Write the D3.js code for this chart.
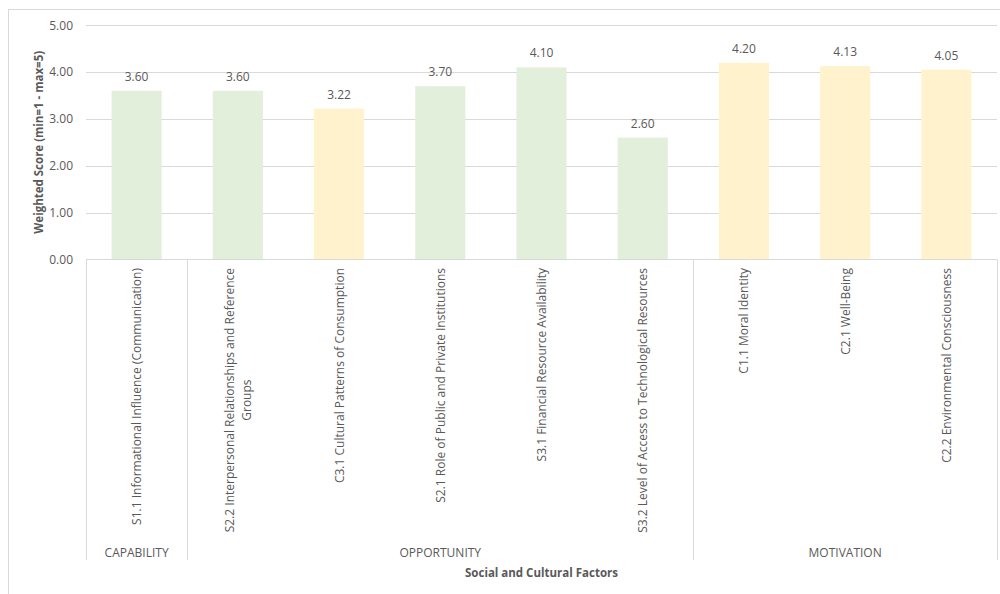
<!DOCTYPE html>
<html>
<head>
<meta charset="utf-8">
<script src="https://cdn.jsdelivr.net/npm/d3@7/dist/d3.min.js"></script>
<style>
  body { margin: 0; background: #fff; }
  svg { display: block; }
  text { font-family: "Open Sans", "Noto Sans", sans-serif; fill: #595959; }
</style>
</head>
<body>
<svg id="chart" width="1000" height="594"></svg>
<script>
// ---- data ----
const categories = [
  "S1.1 Informational Influence (Communication)",
  "S2.2 Interpersonal Relationships and Reference Groups",
  "C3.1 Cultural Patterns of Consumption",
  "S2.1 Role of Public and Private Institutions",
  "S3.1 Financial Resource Availability",
  "S3.2 Level of Access to Technological Resources",
  "C1.1 Moral Identity",
  "C2.1 Well-Being",
  "C2.2 Environmental Consciousness"
];
const labelLines = [
  ["S1.1 Informational Influence (Communication)"],
  ["S2.2 Interpersonal Relationships and Reference", "Groups"],
  ["C3.1 Cultural Patterns of Consumption"],
  ["S2.1 Role of Public and Private Institutions"],
  ["S3.1 Financial Resource Availability"],
  ["S3.2 Level of Access to Technological Resources"],
  ["C1.1 Moral Identity"],
  ["C2.1 Well-Being"],
  ["C2.2 Environmental Consciousness"]
];
const values = [3.60, 3.60, 3.22, 3.70, 4.10, 2.60, 4.20, 4.13, 4.05];
const colorGroup = ["green", "green", "yellow", "green", "green", "green", "yellow", "yellow", "yellow"];
const groups = ["CAPABILITY", "OPPORTUNITY", "MOTIVATION"];
const groupSizes = [1, 5, 3];
const yTicks = [0, 1, 2, 3, 4, 5];
const yTitle = "Weighted Score (min=1 - max=5)";
const xTitle = "Social and Cultural Factors";

// ---- layout ----
const svg = d3.select("#chart");
const pLeft = 86, pRight = 997, pTop = 25.3, pBottom = 259.3;
const catBottom = 560;

svg.append("rect").attr("x", 8.5).attr("y", 9.5).attr("width", 1000).attr("height", 600)
  .attr("fill", "none").attr("stroke", "#d9d9d9").attr("stroke-width", 1);

const x = d3.scaleBand().domain(categories).range([pLeft, pRight]).paddingInner(0).paddingOuter(0);
const y = d3.scaleLinear().domain([0, 5]).range([pBottom, pTop]);
const colors = { green: "#e2efda", yellow: "#fff2cc" };

// gridlines
svg.append("g").selectAll("line").data(yTicks).join("line")
  .attr("x1", pLeft).attr("x2", pRight)
  .attr("y1", d => Math.round(y(d)) + 0.5).attr("y2", d => Math.round(y(d)) + 0.5)
  .attr("stroke", "#d9d9d9").attr("stroke-width", 1);

// y axis labels
const yAxis = d3.axisLeft(y).tickValues(yTicks).tickFormat(d3.format(".2f")).tickSize(0).tickPadding(13);
const yg = svg.append("g").attr("transform", `translate(${pLeft},0)`).call(yAxis);
yg.select(".domain").remove();
yg.selectAll("text").style("font-size", "12px").attr("fill", "#595959")
  .style("font-family", "'Open Sans', sans-serif");

// y title
svg.append("text")
  .attr("transform", `translate(38,${(pTop + pBottom) / 2}) rotate(-90)`)
  .attr("text-anchor", "middle").attr("dominant-baseline", "central")
  .style("font-size", "11.5px").style("font-weight", "bold")
  .text(yTitle);

// bars
const bw = x.bandwidth() * 0.495;
svg.append("g").selectAll("rect").data(categories).join("rect")
  .attr("x", d => x(d) + (x.bandwidth() - bw) / 2)
  .attr("width", bw)
  .attr("y", (d, i) => y(values[i]))
  .attr("height", (d, i) => y(0) - y(values[i]))
  .attr("fill", (d, i) => colors[colorGroup[i]]);

// value labels
svg.append("g").selectAll("text").data(categories).join("text")
  .attr("x", d => x(d) + x.bandwidth() / 2)
  .attr("y", (d, i) => y(values[i]) - 10)
  .attr("text-anchor", "middle")
  .style("font-size", "12px")
  .text((d, i) => values[i].toFixed(2));

// category axis lines: bottom of plot + group separators
svg.append("line").attr("x1", pLeft).attr("x2", pRight)
  .attr("y1", Math.round(pBottom) + 0.5).attr("y2", Math.round(pBottom) + 0.5)
  .attr("stroke", "#d9d9d9");
let acc = 0;
const boundaries = [0];
groupSizes.forEach(s => { acc += s; boundaries.push(acc); });
svg.append("g").selectAll("line").data(boundaries).join("line")
  .attr("x1", b => Math.round(b === categories.length ? pRight : x(categories[b])) + 0.5)
  .attr("x2", b => Math.round(b === categories.length ? pRight : x(categories[b])) + 0.5)
  .attr("y1", pBottom).attr("y2", catBottom)
  .attr("stroke", "#d9d9d9");

// rotated category labels
const lab = svg.append("g").selectAll("g").data(categories).join("g")
  .attr("transform", d => `translate(${x(d) + x.bandwidth() / 2},268) rotate(-90)`);
lab.each(function (d, i) {
  const g = d3.select(this);
  const lines = labelLines[i];
  const lh = 17;
  const off = -(lines.length - 1) * lh / 2;
  const t0 = g.append("text").attr("x", 0).attr("y", off)
    .attr("text-anchor", "end").attr("dominant-baseline", "central")
    .style("font-size", "12px").text(lines[0]);
  if (lines.length > 1) {
    const w = t0.node().getComputedTextLength();
    for (let k = 1; k < lines.length; k++) {
      g.append("text").attr("x", -w / 2).attr("y", off + k * lh)
        .attr("text-anchor", "middle").attr("dominant-baseline", "central")
        .style("font-size", "12px").text(lines[k]);
    }
  }
});

// group labels
svg.append("g").selectAll("text").data(groups).join("text")
  .attr("x", (g, i) => {
    const a = boundaries[i], b = boundaries[i + 1];
    const x0 = x(categories[a]);
    const x1 = b === categories.length ? pRight : x(categories[b]);
    return (x0 + x1) / 2;
  })
  .attr("y", 552).attr("text-anchor", "middle").attr("dominant-baseline", "central")
  .style("font-size", "12px")
  .text(d => d);

// x title
svg.append("text").attr("x", (pLeft + pRight) / 2).attr("y", 572)
  .attr("text-anchor", "middle").attr("dominant-baseline", "central")
  .style("font-size", "11.5px").style("font-weight", "bold")
  .text(xTitle);
</script>
</body>
</html>
